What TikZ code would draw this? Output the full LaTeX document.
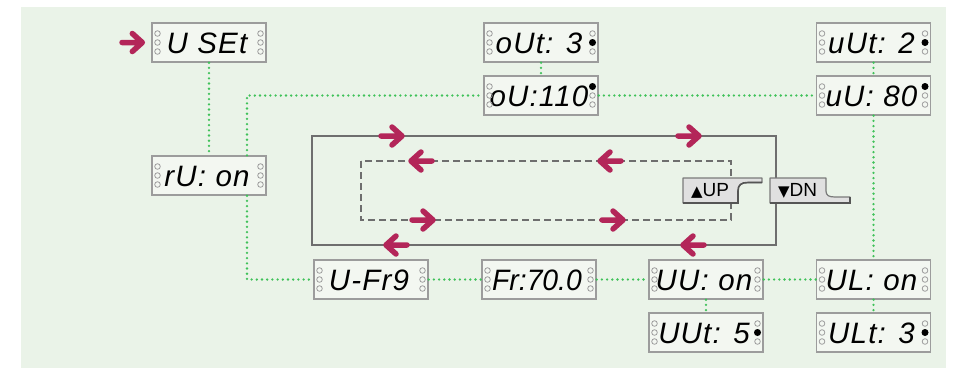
\documentclass[tikz,border=0pt]{standalone}
\usepackage{fontspec}
\setmainfont{Liberation Sans}
\newfontfamily\symfont{DejaVu Sans}
\newfontfamily\ledfont[LetterSpace=4]{Liberation Sans}
\newfontfamily\ledfontn{Liberation Sans}
\usetikzlibrary{calc}
\definecolor{bgc}{HTML}{EAF3E8}
\definecolor{ledfill}{HTML}{F3F7F1}
\definecolor{ledline}{HTML}{9C9C9C}
\definecolor{dotgreen}{HTML}{3FC159}
\definecolor{loopgray}{HTML}{6E6E6E}
\definecolor{arrmag}{HTML}{B32659}
\definecolor{btnfill}{HTML}{E0E0E0}
\definecolor{btnline}{HTML}{7A7A7A}
\tikzset{
  ledbox/.style={draw=ledline, line width=1.4pt, fill=ledfill, minimum width=114pt,
    minimum height=39pt, inner sep=0pt, text height=22pt, text depth=0pt,
    font=\ledfont\fontsize{29.5}{30}\selectfont\itshape},
  ledcirc/.style={draw=ledline, line width=0.8pt},
  dotline/.style={dotgreen, line width=2.6pt, line cap=round, dash pattern=on 0pt off 5.2pt},
  outerloop/.style={draw=loopgray, line width=2.6pt},
  innerloop/.style={draw=loopgray, line width=2pt, dash pattern=on 7pt off 4pt},
  flow/.style={arrmag, line width=5.5pt, line cap=round, line join=round},
  btn/.style={fill=btnfill, draw=btnline, line width=1.2pt, line join=round},
  btntext/.style={font=\fontsize{19}{19}\selectfont, inner sep=0pt},
}
\newcommand\led[5]{%
  \node[ledbox] (#1) at (#2,#3) {#4\hspace*{4pt}};
  \foreach \dy in {-9,0,9}{%
    \draw[ledcirc] (#2-51.5,#3+\dy) circle (2.8pt);
    \draw[ledcirc] (#2+51.5,#3+\dy) circle (2.8pt);
  }%
  \if\relax\detokenize{#5}\relax\else
    \fill[black] (#2+51.5,#3+#5) circle (3.5pt);
  \fi
}
\newcommand\rarr[2]{\draw[flow] (#1-11,#2) -- (#1+10,#2) (#1,#2-9) -- (#1+10,#2) -- (#1,#2+9);}
\newcommand\larr[2]{\draw[flow] (#1+11,#2) -- (#1-10,#2) (#1,#2-9) -- (#1-10,#2) -- (#1,#2+9);}
\begin{document}
\begin{tikzpicture}[x=1pt,y=-1pt]
\useasboundingbox (0,0) rectangle (956,368);
\fill[bgc] (21,7) rectangle (946,368);

% displays
\led{uset}{209}{42.5}{U SEt}{}
\led{oUt}{541}{42.5}{oUt: 3}{0}
\led{oUv}{541}{95.5}{oU:110}{-9}
\led{uUt}{873.5}{42.5}{uUt: 2}{0}
\led{uUv}{873.5}{95.5}{uU: 80}{-9}
\led{rU}{209}{175.5}{rU: on}{}
\led{uFr}{371}{279.5}{U-Fr9}{}
\led{Fr}{539}{279.5}{\ledfontn\itshape\scalebox{0.96}[1]{Fr:70.0}}{}
\led{UU}{706}{279.5}{UU: on}{}
\led{UL}{873.5}{279.5}{UL: on}{}
\led{UUt}{706}{332.5}{UUt: 5}{0}
\led{ULt}{873.5}{332.5}{ULt: 3}{0}

% dotted connectors
\coordinate (rUx) at (247,0);
\draw[dotline] (uset.south) -- (rU.north);
\draw[dotline] (rU.north -| rUx) |- (oUv.west);
\draw[dotline] (rU.south -| rUx) |- (uFr.west);
\draw[dotline] (oUt.south) -- (oUv.north);
\draw[dotline] (oUv.east) -- (uUv.west);
\draw[dotline] (uUt.south) -- (uUv.north);
\draw[dotline] (uUv.south) -- (UL.north);
\draw[dotline] (uFr.east) -- (Fr.west);
\draw[dotline] (Fr.east) -- (UU.west);
\draw[dotline] (UU.east) -- (UL.west);
\draw[dotline] (UU.south) -- (UUt.north);
\draw[dotline] (UL.south) -- (ULt.north);

% entry arrow
\coordinate (entry) at (122,42.5);
\draw[flow] (entry) -- ([xshift=-9pt]uset.west) coordinate (etip) ++(-10,-9) -- (etip) -- ++(-10,9);

% loops
\draw[outerloop] (312,136) rectangle (776,245);
\draw[innerloop] (361,161) rectangle (731,220);
\rarr{392}{136}
\rarr{689}{136}
\larr{396}{245}
\larr{693}{245}
\larr{421}{161}
\larr{610}{161}
\rarr{423}{220}
\rarr{613}{220}

% buttons
\draw[btn] (683,178) -- (762,178) -- (762,182.5) -- (748,182.5)
  .. controls (741,182.5) and (738,185) .. (738,191) -- (738,203) -- (683,203) -- cycle;
\draw[btnline!70!black, line width=1.6pt] (762,182.5) -- (748,182.5)
  .. controls (741,182.5) and (738,185) .. (738,191) -- (738,203) -- (683,203);
\node[btntext] (up) at (710,190.5) {{\symfont\fontsize{15}{15}\selectfont ▲}UP};
\draw[btn] (770,178) -- (826,178) -- (826,191)
  .. controls (826,195.5) and (829,197) .. (835,197) -- (850,197) -- (850,203) -- (770,203) -- cycle;
\draw[btnline!70!black, line width=1.6pt] (850,197) -- (850,203) -- (770,203);
\node[btntext] (dn) at (797.5,190.5) {{\symfont\fontsize{15}{15}\selectfont ▼}DN};
\end{tikzpicture}
\end{document}
